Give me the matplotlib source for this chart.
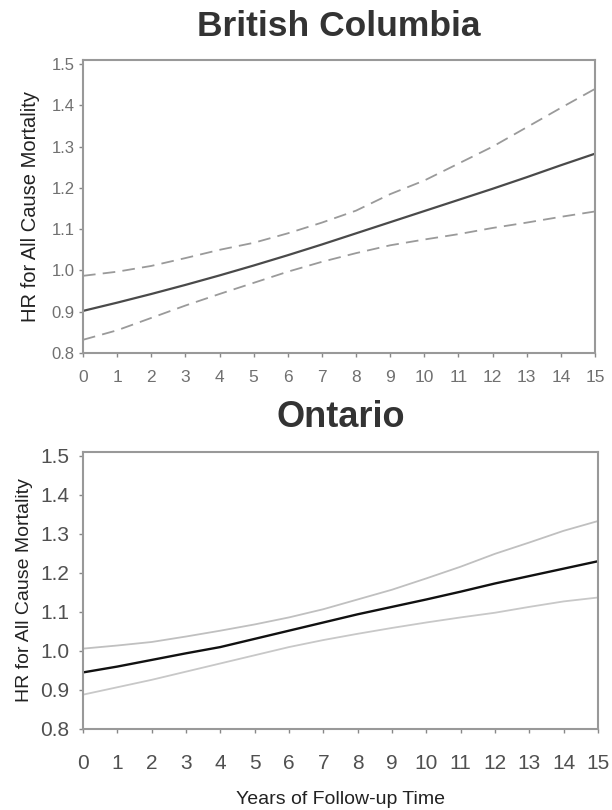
import matplotlib
matplotlib.use("Agg")
import matplotlib.pyplot as plt

plt.rcParams['font.family'] = ['Liberation Sans', 'DejaVu Sans']

years = list(range(16))

# British Columbia
bc_hr = [0.902, 0.922, 0.943, 0.965, 0.988, 1.012, 1.037, 1.063, 1.090, 1.117,
         1.144, 1.171, 1.198, 1.226, 1.255, 1.283]
bc_upper = [0.987, 0.997, 1.011, 1.030, 1.050, 1.067, 1.090, 1.116, 1.145, 1.185,
            1.218, 1.259, 1.300, 1.347, 1.394, 1.440]
bc_lower = [0.832, 0.855, 0.885, 0.915, 0.943, 0.970, 0.997, 1.021, 1.042, 1.061,
            1.075, 1.088, 1.103, 1.116, 1.130, 1.143]

# Ontario
on_hr = [0.945, 0.960, 0.977, 0.994, 1.010, 1.031, 1.052, 1.073, 1.094, 1.113,
         1.132, 1.152, 1.173, 1.192, 1.211, 1.230]
on_upper = [1.006, 1.014, 1.023, 1.037, 1.052, 1.068, 1.086, 1.107, 1.132, 1.157,
            1.186, 1.216, 1.249, 1.278, 1.308, 1.333]
on_lower = [0.888, 0.907, 0.926, 0.947, 0.968, 0.989, 1.010, 1.028, 1.044, 1.059,
            1.073, 1.086, 1.098, 1.113, 1.127, 1.137]

yticks = [0.8, 0.9, 1.0, 1.1, 1.2, 1.3, 1.4, 1.5]
ylabel = "HR for All Cause Mortality"

fig = plt.figure(figsize=(6.12, 8.1), dpi=100)

# top panel: British Columbia
ax1 = fig.add_axes([0.1356, 0.5642, 0.8366, 0.3617])
ax1.plot(years, bc_hr, color="#4a4a4a", linewidth=1.6)
ax1.plot(years, bc_upper, color="#9a9a9a", linewidth=1.3, linestyle=(0, (7, 4)))
ax1.plot(years, bc_lower, color="#9a9a9a", linewidth=1.3, linestyle=(0, (7, 4)))
ax1.set_title("British Columbia", fontsize=25.5, fontweight="bold", color="#333333", pad=17)
ax1.set_ylabel(ylabel, fontsize=14.5, color="#222222", labelpad=8)
ax1.tick_params(axis="x", labelsize=12.5, pad=9, labelcolor="#707070")
ax1.tick_params(axis="y", labelsize=12, pad=3, labelcolor="#707070")

# bottom panel: Ontario
ax2 = fig.add_axes([0.1356, 0.1, 0.8415, 0.342])
ax2.plot(years, on_hr, color="#111111", linewidth=1.7)
ax2.plot(years, on_upper, color="#c0c0c0", linewidth=1.3)
ax2.plot(years, on_lower, color="#c8c8c8", linewidth=1.3)
ax2.set_title("Ontario", fontsize=26, fontweight="bold", color="#333333", pad=18)
ax2.set_xlabel("Years of Follow-up Time", fontsize=14, color="#222222", labelpad=13)
ax2.set_ylabel(ylabel, fontsize=14, color="#222222", labelpad=5)
ax2.tick_params(axis="x", labelsize=15, pad=15, labelcolor="#505050")
ax2.tick_params(axis="y", labelsize=15, pad=7, labelcolor="#505050")

for ax in (ax1, ax2):
    ax.set_xlim(0, 15)
    ax.set_ylim(0.8, 1.51)
    ax.set_xticks(years)
    ax.set_yticks(yticks)
    ax.set_yticklabels([f"{v:.1f}" for v in yticks])
    ax.tick_params(direction="out", length=3, width=1, color="#888888")
    for s in ax.spines.values():
        s.set_color("#999999")
        s.set_linewidth(1.5)

fig.savefig("out.png", dpi=100)
